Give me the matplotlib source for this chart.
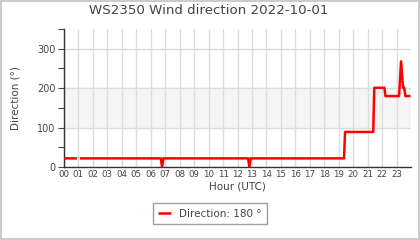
import numpy as np
import matplotlib
matplotlib.use("Agg")
import matplotlib.pyplot as plt
import matplotlib.ticker as mticker

# Wind direction readings (hour of day UTC, degrees); NaN marks a gap
hours = [0.0, 0.9, np.nan, 1.12, 6.7, 6.79, 6.88, 12.73, 12.82, 12.91,
         19.36, 19.43, 21.38, 21.45, 22.15, 22.22, 23.16, 23.3, 23.44,
         23.52, 23.6, 23.95]
direction = [22, 22, np.nan, 22, 22, 0, 22, 22, 0, 22,
             22, 89, 89, 201, 201, 180, 180, 268, 201,
             201, 180, 180]
hour_labels = [f"{h:02d}" for h in range(24)]
last_value = 180

TEXT = "#444444"
GRID = "#dddddd"
BAND = "#f5f5f5"
LINE = "#ff0000"

plt.rcParams["font.family"] = "DejaVu Sans"

fig = plt.figure(figsize=(4.2, 2.4), dpi=100, facecolor="white",
                 edgecolor="#cccccc", linewidth=1.5)
ax = fig.add_axes([0.152, 0.304, 0.827, 0.575])

ax.axhspan(100, 200, color=BAND, zorder=0)
for h in range(24):
    ax.axvline(h, color=GRID, linewidth=1, zorder=1)
for v in (100, 200, 300):
    ax.axhline(v, color=GRID, linewidth=1, zorder=1)

line, = ax.plot(hours, direction, color=LINE, linewidth=1.8, zorder=3,
                solid_capstyle="butt",
                label=f"Direction: {last_value} \u00b0")

ax.set_xlim(0, 24)
ax.set_ylim(0, 350)
ax.set_xticks(range(24))
ax.set_xticklabels(hour_labels)
ax.yaxis.set_major_locator(mticker.MultipleLocator(100))
ax.yaxis.set_minor_locator(mticker.MultipleLocator(50))
ax.tick_params(axis="x", length=0, pad=2, labelsize=6.2, colors=TEXT)
ax.tick_params(axis="y", which="both", length=4, width=0.8, pad=2,
               labelsize=7, colors=TEXT)

for s in ("top", "right"):
    ax.spines[s].set_visible(False)
for s in ("left", "bottom"):
    ax.spines[s].set_color("#333333")
    ax.spines[s].set_linewidth(1)

ax.set_xlabel("Hour (UTC)", fontsize=7.5, color=TEXT, labelpad=2)
ax.set_ylabel("Direction (\u00b0)", fontsize=7.5, color=TEXT, labelpad=12)
fig.text(0.498, 0.955, "WS2350 Wind direction 2022-10-01", ha="center",
         va="center", fontsize=9.6, color=TEXT)

fig.legend(handles=[line], loc="center", bbox_to_anchor=(0.5, 0.11),
           fontsize=7.5, frameon=True, fancybox=False, edgecolor="#888888",
           handlelength=1.2, borderpad=0.5, labelcolor=TEXT)

fig.savefig("out.png", dpi=100, facecolor="white", edgecolor="#cccccc")
